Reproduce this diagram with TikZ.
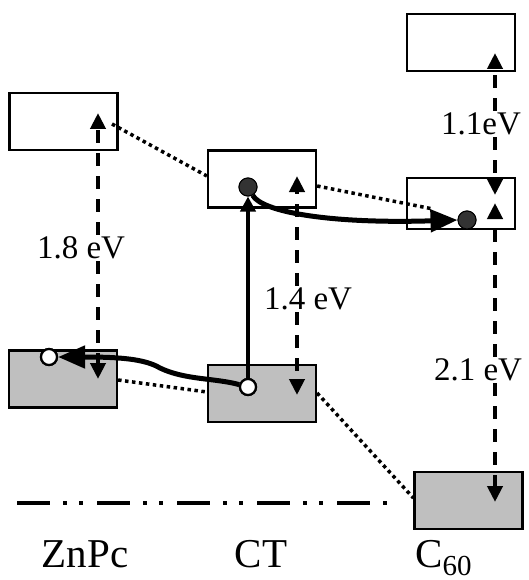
\documentclass[tikz,border=0pt]{standalone}
\usepackage{fontspec}
\setmainfont{Liberation Serif}
\usetikzlibrary{arrows.meta}
\tikzset{
	orbit/.style={
		draw, line width=2.2pt, minimum width=108pt, minimum height=57pt,
		inner sep=0pt
	},
	orbitfill/.style={orbit, fill=gray!50},
	elec/.style={circle, fill=black!80, draw=black, line width=1pt,
		minimum size=18pt, inner sep=0pt},
	hole/.style={circle, fill=white, draw=black, line width=2.2pt,
		minimum size=16pt, inner sep=0pt},
	elabel/.style={font={\fontsize{33}{38}\selectfont}, inner sep=2pt},
	mlabel/.style={font={\fontsize{41}{48}\selectfont}, anchor=base, inner sep=0pt},
	gapline/.style={line width=4.5pt, dash pattern=on 13pt off 10pt,
		-{Triangle[length=16pt,width=15pt]}},
	transfer/.style={line width=5pt, -{Triangle[length=27pt,width=22pt]}},
	excite/.style={line width=4.5pt, -{Triangle[length=15pt,width=15pt]}},
	link/.style={line width=3.5pt, dash pattern=on 3.5pt off 3.5pt},
	vacuum/.style={line width=4.5pt,
		dash pattern=on 33pt off 13pt on 4pt off 12pt on 4pt off 14pt},
	>=stealth,
}
\begin{document}
\begin{tikzpicture}[x=1pt, y=-1pt]
\useasboundingbox (0,0) rectangle (529,580);
% levels
\node[orbit] (znL) at (63.5,121.5) {};
\node[orbitfill] (znH) at (63,379) {};
\node[orbit] (ctL) at (262,179) {};
\node[orbitfill] (ctH) at (262,393.5) {};
\node[orbit] (cT) at (461,42.5) {};
\node[orbit, minimum height=51pt] (cL) at (461,203.5) {};
\node[orbitfill] (cH) at (468.5,500.5) {};
% dotted links
\draw[link] (112,124) -- (ctL.west |- 0,176);
\draw[link] (ctL.east |- 0,186) -- (433,209);
\draw[link] (znH.east |- 0,380) -- (ctH.west |- 0,392);
\draw[link] (ctH.east |- 0,393) -- (cH.west |- 0,498);
% vacuum level
\coordinate (v1) at (17,503);
\coordinate (v2) at (387,503);
\draw[vacuum] (v1) -- (v2);
% gaps
\coordinate (zt1) at (98,113);
\coordinate (zt2) at (98,379);
\coordinate (ct1) at (297,176);
\coordinate (ct2) at (297,395);
\coordinate (c1) at (495,53);
\coordinate (c2) at (495,195);
\coordinate (c3) at (495,203);
\coordinate (c4) at (495,502);
\node[elabel] (l18) at (81,248) {1.8 eV};
\node[elabel] (l14) at (308,299) {1.4 eV};
\node[elabel] (l11) at (481,124) {1.1eV};
\node[elabel] (l21) at (478,370) {2.1 eV};
\draw[gapline] (l18.north -| zt1) -- (zt1);
\draw[gapline] (l18.south -| zt2) -- (zt2);
\draw[gapline] (l14.north -| ct1) -- (ct1);
\draw[gapline] (l14.south -| ct2) -- (ct2);
\draw[gapline] (l11.north -| c1) -- (c1);
\draw[gapline] (l11.south -| c2) -- (c2);
\draw[gapline] (l21.north -| c3) -- (c3);
\draw[gapline] (l21.south -| c4) -- (c4);
% charges
\node[hole] (h1) at (248,387) {};
\node[hole] (h2) at (49,357) {};
\node[elec] (e1) at (248,187) {};
\node[elec] (e2) at (467,220) {};
\draw[excite] (h1) -- (e1);
\draw[transfer] (e1) .. controls (262,212) and (330,224) .. (e2.west);
\draw[transfer] (h1) .. controls (215,378) and (185,380) .. (160,368)
	.. controls (145,359) and (120,357) .. (h2.east);
\node[hole] at (h1) {};
\node[hole] at (h2) {};
\node[elec] at (e1) {};
\node[elec] at (e2) {};
% labels
\node[mlabel] (mZn) at (85,567) {ZnPc};
\node[mlabel] (mCT) at (261,567) {CT};
\node[mlabel, anchor=base west] (mC) at (415,567)
	{C\raisebox{-8pt}{\fontsize{29}{30}\selectfont 60}};
\end{tikzpicture}
\end{document}
